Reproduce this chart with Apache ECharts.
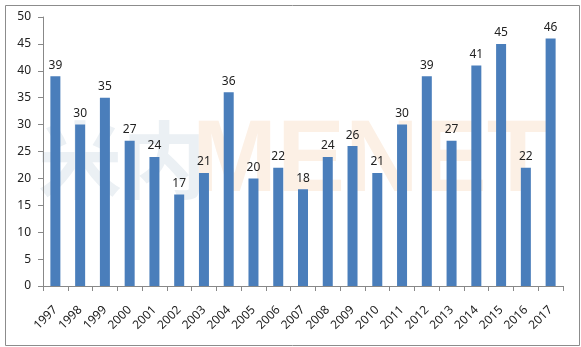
<!DOCTYPE html>
<html>
<head>
<meta charset="utf-8">
<script src="https://cdn.jsdelivr.net/npm/echarts@6/dist/echarts.min.js"></script>
<style>
  html, body { margin: 0; padding: 0; background: #fff; }
  #chart { width: 581px; height: 347px; }
</style>
</head>
<body>
<div id="chart"></div>
<script>
// Yearly counts, 1997–2017
const years = ['1997','1998','1999','2000','2001','2002','2003','2004','2005','2006','2007',
               '2008','2009','2010','2011','2012','2013','2014','2015','2016','2017'];
const counts = [39, 30, 35, 27, 24, 17, 21, 36, 20, 22, 18, 24, 26, 21, 30, 39, 27, 41, 45, 22, 46];

const FONT = '"Noto Sans", "Open Sans", sans-serif';
const chart = echarts.init(document.getElementById('chart'), null, { renderer: 'canvas' });

chart.setOption({
  animation: false,
  backgroundColor: '#fff',
  graphic: [
    // outer frame
    { type: 'rect', left: 3, top: 3, shape: { width: 574, height: 340 },
      style: { fill: 'none', stroke: '#8c8c8c', lineWidth: 1 }, z: -10 },
    // faint background mark
    { type: 'text', left: 38, top: 118, z: -5,
      style: { text: '米内', fill: '#ebf0f4', font: 'bold 84px "Noto Sans CJK SC", sans-serif' } },
    { type: 'text', left: 192, top: 112, z: -5,
      style: { text: 'MENET', fill: '#fcf0e5', font: 'bold 102px "Liberation Sans", sans-serif' } }
  ],
  grid: { left: 43, right: 18, top: 17, bottom: 61 },
  xAxis: {
    type: 'category',
    data: years,
    axisLine: { lineStyle: { color: '#888', width: 1 } },
    axisTick: { show: true, alignWithLabel: false, length: 5, lineStyle: { color: '#888' } },
    axisLabel: { rotate: 45, margin: 22, color: '#222', fontSize: 12, fontFamily: FONT, interval: 0 }
  },
  yAxis: {
    type: 'value',
    min: 0, max: 50, interval: 5,
    splitLine: { show: false },
    axisLine: { show: true, lineStyle: { color: '#888', width: 1 } },
    axisTick: { show: true, length: 5, lineStyle: { color: '#888' } },
    axisLabel: { margin: 12, color: '#222', fontSize: 12, fontFamily: FONT }
  },
  series: [{
    type: 'bar',
    data: counts,
    barWidth: 10,
    itemStyle: { color: '#4a7ebb' },
    label: { show: true, position: 'top', distance: 5, color: '#222', fontSize: 12, fontFamily: FONT }
  }]
});
</script>
</body>
</html>
